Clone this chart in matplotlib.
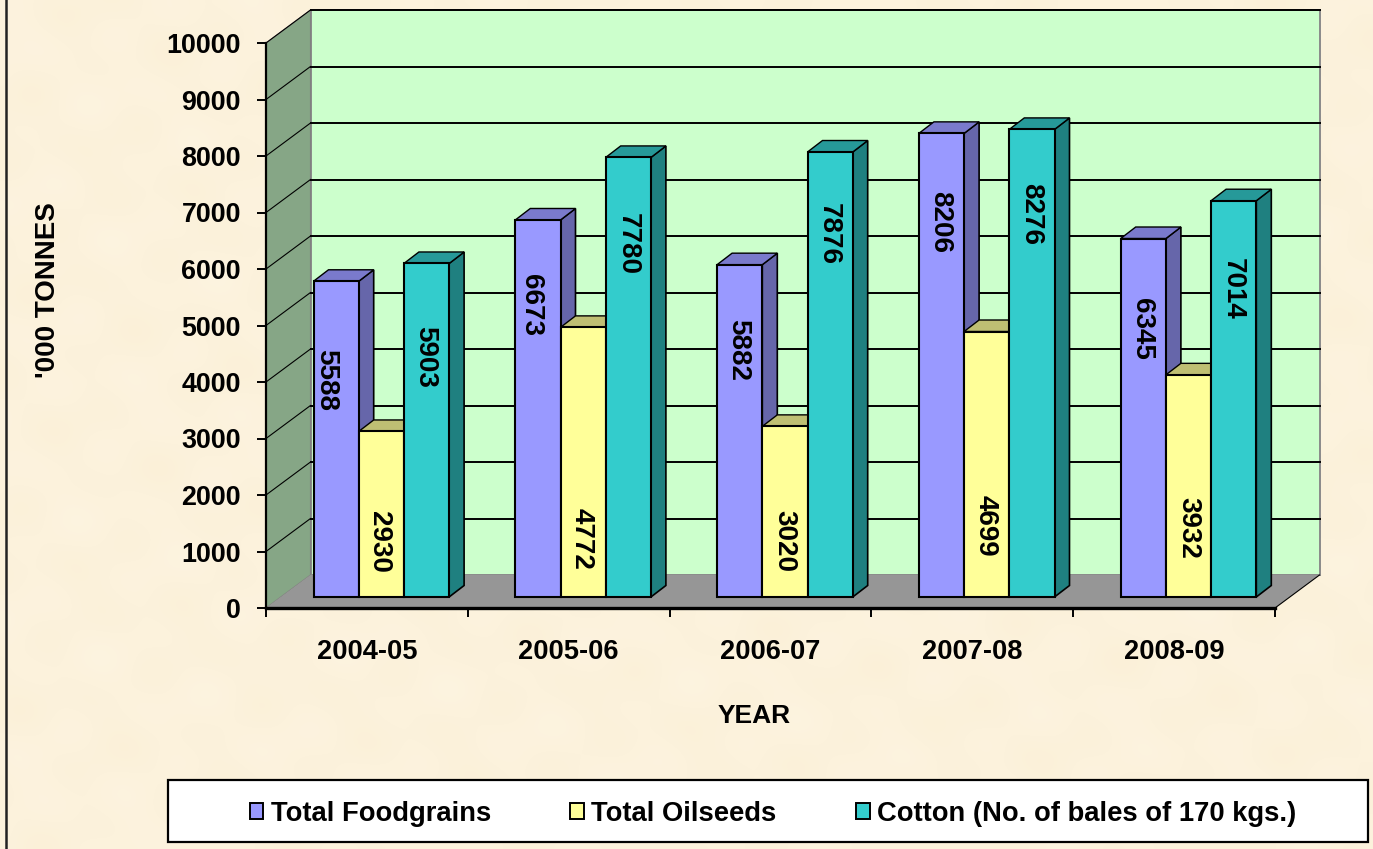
import numpy as np
import matplotlib
matplotlib.use('Agg')
import matplotlib.pyplot as plt
from matplotlib.patches import Polygon, Rectangle, Patch

plt.rcParams['font.family'] = ['Liberation Sans', 'DejaVu Sans']
plt.rcParams['font.weight'] = 'bold'

# data
years = ['2004-05', '2005-06', '2006-07', '2007-08', '2008-09']
foodgrains = [5588, 6673, 5882, 8206, 6345]
oilseeds = [2930, 4772, 3020, 4699, 3932]
cotton = [5903, 7780, 7876, 8276, 7014]
seriesNames = ['Total Foodgrains', 'Total Oilseeds', 'Cotton (No. of bales of 170 kgs.)']
yTicks = [0, 1000, 2000, 3000, 4000, 5000, 6000, 7000, 8000, 9000, 10000]

# label placement, pixels below the bar top / sideways from bar centre
labelDrop = [[99, 85, 85, 89, 90], [110, 212, 115, 194, 153], [93, 87, 82, 85, 88]]
labelShift = [[-10, -7, -2, -1, -1], [-2, -1, -1, -1, 0], [-1, -1, -1, -1, -1]]

# front, top, side colours per series
colours = [('#9999ff', '#7a7acc', '#6666aa'),
           ('#ffff99', '#bfbf73', '#a8a866'),
           ('#33cccc', '#269999', '#1f8080')]

W, H = 1373, 849
fig = plt.figure(figsize=(W / 100, H / 100), dpi=100)

# parchment background, legend box and left border in pixel coordinates
bg = fig.add_axes([0, 0, 1, 1], zorder=-1)
xx, yy = np.meshgrid(np.arange(0, W, 4), np.arange(0, H, 4))
mottle = (np.sin(xx / 19.0 + yy / 31.0) + np.sin(xx / 13.0 - yy / 17.0 + 1.3)
          + np.sin(xx / 37.0 + yy / 11.0 + 2.1) + np.sin(yy / 23.0 - xx / 47.0)) / 4
img = np.zeros(xx.shape + (3,))
img[..., 0] = (252 + 1 * mottle) / 255
img[..., 1] = (242 + 1.5 * mottle) / 255
img[..., 2] = (220 + 3.5 * mottle) / 255
bg.imshow(img, extent=(0, W, H, 0), aspect='auto', interpolation='bicubic')
bg.set_xlim(0, W)
bg.set_ylim(H, 0)
bg.axis('off')
bg.plot([6, 6], [0, H], color='#222222', lw=1.8)
bg.add_patch(Rectangle((168, 780), 1200, 62, fc='white', ec='black', lw=1.6))

# axes sit on the front plane of the 3D box
left, right, top, bottom = 266, 1275, 43, 608
ax = fig.add_axes([left / W, 1 - bottom / H, (right - left) / W, (bottom - top) / H])
ax.patch.set_visible(False)
ax.set_xlim(0, 5)
ax.set_ylim(0, 10000)

pxX = 5 / (right - left)
pxY = 10000 / (bottom - top)
wallDx, wallDy = 44.5 * pxX, 33 * pxY
barDx, barDy = 15 * pxX, 11.5 * pxY
barLift = 11 * pxY
barStart = 47.5 * pxX
barWidth = 45.2 * pxX

# walls and floor
ax.add_patch(Polygon([(wallDx, wallDy), (5 + wallDx, wallDy), (5 + wallDx, 10000 + wallDy), (wallDx, 10000 + wallDy)],
                     fc='#ccffcc', ec='#8a8a8a', lw=1.4, clip_on=False, zorder=1))
ax.add_patch(Polygon([(0, 0), (wallDx, wallDy), (wallDx, 10000 + wallDy), (0, 10000)],
                     fc='#86a686', ec='#808080', lw=0.8, clip_on=False, zorder=1))
ax.add_patch(Polygon([(0, 0), (5, 0), (5 + wallDx, wallDy), (wallDx, wallDy)],
                     fc='#969696', ec='none', clip_on=False, zorder=1.1))
ax.plot([5, 5 + wallDx], [0, wallDy], color='black', lw=0.8, clip_on=False, zorder=1.2)

for v in yTicks[1:]:
    ax.plot([wallDx, 5 + wallDx], [v + wallDy, v + wallDy], color='black', lw=1.4, clip_on=False, zorder=1.2)
    ax.plot([0, wallDx], [v, v + wallDy], color='black', lw=0.8, clip_on=False, zorder=1.2)

# bars, left to right so later fronts cover earlier sides
series = [foodgrains, oilseeds, cotton]
z = 3
for g in range(len(years)):
    for s in range(3):
        v = series[s][g]
        x0 = g + barStart + s * barWidth
        x1 = x0 + barWidth
        yTop = v + barLift
        front, topC, sideC = colours[s]
        ax.add_patch(Polygon([(x1, barLift), (x1 + barDx, barLift + barDy), (x1 + barDx, yTop + barDy), (x1, yTop)],
                             fc=sideC, ec='black', lw=1.2, clip_on=False, zorder=z))
        ax.add_patch(Polygon([(x0, yTop), (x1, yTop), (x1 + barDx, yTop + barDy), (x0 + barDx, yTop + barDy)],
                             fc=topC, ec='black', lw=1.0, clip_on=False, zorder=z))
        ax.bar(x0, v, barWidth, bottom=barLift, align='edge', color=front, edgecolor='black', lw=1.5,
               clip_on=False, zorder=z + 0.5)
        z += 1

for g in range(len(years)):
    for s in range(3):
        v = series[s][g]
        x = g + barStart + (s + 0.5) * barWidth + labelShift[s][g] * pxX
        y = v + barLift - labelDrop[s][g] * pxY
        ax.text(x, y, str(v), rotation=270, ha='center', va='center', fontsize=20, color='black', zorder=50)

# axis furniture
ax.spines['top'].set_visible(False)
ax.spines['right'].set_visible(False)
ax.spines['left'].set_linewidth(1.6)
ax.spines['bottom'].set_linewidth(2.4)
ax.spines['left'].set_zorder(40)
ax.spines['bottom'].set_zorder(2)
ax.set_yticks(yTicks)
ax.set_xticks(range(6))
ax.set_xticklabels([])
ax.set_xticks(np.arange(5) + 0.5, years, minor=True)
ax.tick_params(axis='y', length=6.5, width=1.4, pad=11.5, labelsize=19.4)
ax.tick_params(axis='x', which='major', length=6.5, width=1.4)
ax.tick_params(axis='x', which='minor', length=0, pad=22.5, labelsize=19.6)

ax.set_xlabel('YEAR', fontsize=19, fontweight='bold', va='center')
ax.set_ylabel("'000 TONNES", fontsize=20, fontweight='bold', va='center')
ax.xaxis.set_label_coords(754 / W, 1 - 716 / H, transform=fig.transFigure)
ax.yaxis.set_label_coords(48 / W, 1 - 290 / H, transform=fig.transFigure)

handles = [Patch(fc=c[0], ec='black', lw=1.4) for c in colours]
leg = fig.legend(handles, seriesNames, loc='center', bbox_to_anchor=(773 / W, 1 - 814 / H), ncol=3, frameon=False,
                 handlelength=0.5, handleheight=0.5, handletextpad=0.27, columnspacing=2.9,
                 borderpad=0, prop={'weight': 'bold', 'size': 19.7})

fig.savefig('out.png', dpi=100)
